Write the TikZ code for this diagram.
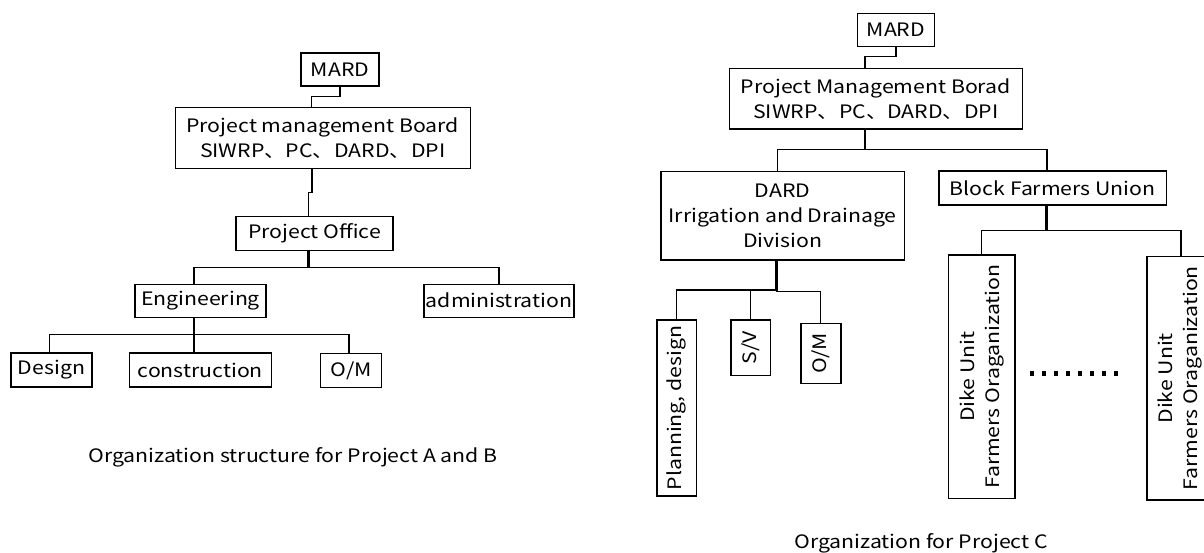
\documentclass[tikz,border=0pt]{standalone}
\usepackage{fontspec}
\setmainfont{Noto Sans CJK JP}[FakeStretch=1.15]
\newcommand{\orgfont}{\fontsize{18.5}{25}\selectfont}

\begin{document}
\begin{tikzpicture}[x=1pt,y=-1pt,
    box/.style={draw,line width=1.4pt,inner sep=0pt,align=center,font=\orgfont},
    vbox/.style={box,rotate=90},
    conn/.style={line width=1.4pt},
    trunk/.style={line width=2.8pt}]
    \useasboundingbox (0,0) rectangle (1204,553);

    % Project A and B
    \node[box,minimum width=78,minimum height=33] (lmard) at (340,69.5) {MARD};
    \node[box,minimum width=295,minimum height=61] (lpmb) at (322.7,137.8)
        {Project management Board\\SIWRP、PC、DARD、DPI};
    \node[box,minimum width=157,minimum height=34] (lpo) at (314.5,233.7) {Project Office};
    \node[box,minimum width=131,minimum height=33] (leng) at (200.5,300.7) {Engineering};
    \node[box,minimum width=150,minimum height=33] (ladm) at (499,300.7) {administration};
    \node[box,minimum width=81,minimum height=34] (ldes) at (51.5,370) {Design};
    \node[box,minimum width=142,minimum height=34] (lcon) at (200.3,370) {construction};
    \node[box,minimum width=61,minimum height=34] (lom) at (351.2,370.5) {O/M};
    \node[font=\orgfont] (lcap) at (293,457) {Organization structure for Project A and B};

    % Important coordinates are defined
    \coordinate (l_j1) at (311.4,96.7);
    \coordinate (l_j2) at (311.8,192.7);
    \coordinate (l_j3) at (308.2,192.7);
    \coordinate (l_b1w) at (194,267.3);
    \coordinate (l_b1e) at (499,267.3);
    \coordinate (l_b2w) at (49.3,334.3);
    \coordinate (l_b2m) at (194,334.3);
    \coordinate (l_b2e) at (349,334.3);

    \draw[conn] (lmard.south) |- (l_j1) -- (l_j1 |- lpmb.north);
    \draw[conn] (l_j2 |- lpmb.south) -- (l_j2) -- (l_j3) -- (l_j3 |- lpo.north);
    \draw[trunk] (l_j3 |- lpo.south) -- (l_j3 |- l_b1w);
    \draw[conn] (l_b1w |- leng.north) -- (l_b1w) -- (l_b1e) -- (ladm.north);
    \draw[trunk] (l_b2m |- leng.south) -- (l_b2m);
    \draw[conn] (l_b2w |- ldes.north) -- (l_b2w) -- (l_b2e) -- (l_b2e |- lom.north);
    \draw[conn] (l_b2m) -- (l_b2m |- lcon.north);

    % Project C
    \node[box,minimum width=77,minimum height=33.4] (rmard) at (895.9,30) {MARD};
    \node[box,minimum width=293,minimum height=60.7] (rpmb) at (875.8,98.7)
        {Project Management Borad\\SIWRP、PC、DARD、DPI};
    \node[box,minimum width=243.4,minimum height=88.3] (rdard) at (782.6,215.9)
        {DARD\\Irrigation and Drainage\\Division};
    \node[box,minimum width=227.3,minimum height=34] (rbfu) at (1052.7,188) {Block Farmers Union};
    \node[vbox,minimum width=176,minimum height=39.3] (rplan) at (676.7,408) {Planning, design};
    \node[vbox,minimum width=55.3,minimum height=39.3] (rsv) at (750.7,347.7) {S/V};
    \node[vbox,minimum width=60,minimum height=40] (rom) at (821,353.3) {O/M};
    \node[vbox,minimum width=243.3,minimum height=66.3] (rdike1) at (981.8,376.7)
        {Dike Unit\\Farmers Oraganization};
    \node[vbox,minimum width=243.3,minimum height=66.3] (rdike2) at (1180,378.3)
        {Dike Unit\\Farmers Oraganization};
    \node[font=\orgfont] (rcap) at (921,543) {Organization for Project C};

    \coordinate (r_j1) at (865,56.7);
    \coordinate (r_t1) at (865,149.3);
    \coordinate (r_b1w) at (777.2,149.3);
    \coordinate (r_b1e) at (1046.8,149.3);
    \coordinate (r_t2) at (776.4,290.7);
    \coordinate (r_b2w) at (676.3,290);
    \coordinate (r_b2s) at (750.2,290);
    \coordinate (r_b2e) at (820.3,291.7);
    \coordinate (r_t3) at (1046.8,230.7);
    \coordinate (r_b3w) at (981.4,230.7);
    \coordinate (r_b3e) at (1180.9,230.7);

    \draw[conn] (rmard.south) |- (r_j1) -- (r_j1 |- rpmb.north);
    \draw[trunk] (r_t1 |- rpmb.south) -- (r_t1);
    \draw[conn] (r_b1w |- rdard.north) -- (r_b1w) -- (r_b1e) -- (r_b1e |- rbfu.north);
    \draw[trunk] (r_t2 |- rdard.south) -- (r_t2);
    \draw[conn] (r_b2w |- rplan.east) -- (r_b2w) -- (r_t2 |- r_b2w);
    \draw[conn] (r_t2 |- r_b2e) -- (r_b2e) -- (r_b2e |- rom.east);
    \draw[conn] (r_b2s) -- (r_b2s |- rsv.east);
    \draw[trunk] (r_t3 |- rbfu.south) -- (r_t3);
    \draw[conn] (r_b3w |- rdike1.east) -- (r_b3w) -- (r_b3e) -- (r_b3e |- rdike2.east);

    % the dots between the dike units
    \foreach \i in {0,...,7}
        \fill (1029.5+12*\i,371) rectangle ++(4.5,4.5);
\end{tikzpicture}
\end{document}
